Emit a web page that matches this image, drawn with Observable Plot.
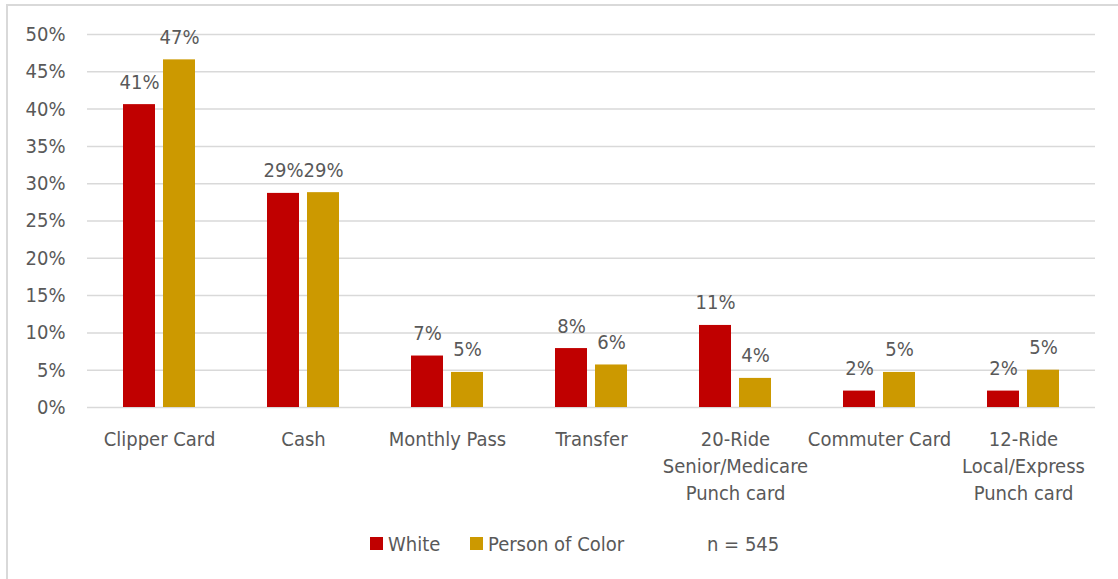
<!DOCTYPE html>
<html><head><meta charset="utf-8">
<script src="https://cdn.jsdelivr.net/npm/d3@7"></script>
<script src="https://cdn.jsdelivr.net/npm/@observablehq/plot@0.6"></script>
<style>
body{margin:0;overflow:hidden;background:#fff;width:1118px;height:579px;position:relative;
  font-family:"Liberation Sans Narrow","Arial Narrow","DejaVu Sans Condensed",sans-serif;color:#595959;}
#frame{position:absolute;left:6px;top:4px;width:1200px;height:700px;border:2px solid #d9d9d9;box-sizing:border-box;}
#chart{position:absolute;left:0;top:0;}
.sw{position:absolute;top:537px;width:13px;height:13px;}
.lt{position:absolute;top:534px;font-size:20px;line-height:20px;white-space:nowrap;}
</style></head>
<body>
<div id="frame"></div>
<div id="chart"></div>
<div id="legend"></div>
<script>
const categories = ["Clipper Card","Cash","Monthly Pass","Transfer","20-Ride\nSenior/Medicare\nPunch card","Commuter Card","12-Ride\nLocal/Express\nPunch card"];
const series = ["White","Person of Color"];
const whiteValues = [40.6,28.7,6.9,7.9,11.0,2.2,2.2];
const colorValues = [46.6,28.8,4.7,5.7,3.9,4.7,5.0];
const seriesColors = ["#C00000","#CC9900"];
const yTicks = [0,5,10,15,20,25,30,35,40,45,50];
const sampleNote = "n = 545";

const data = [];
categories.forEach((c,i)=>{
  data.push({category:c, series:series[0], value:whiteValues[i]});
  data.push({category:c, series:series[1], value:colorValues[i]});
});

const font = '"Liberation Sans Narrow","Arial Narrow","DejaVu Sans Condensed",sans-serif';
const chart = Plot.plot({
  width:1118, height:515,
  marginLeft:85, marginRight:21, marginTop:34, marginBottom:108,
  style:{fontFamily:font, color:"#595959", background:"transparent", overflow:"visible"},
  fx:{domain:categories, padding:0, label:null},
  x:{domain:series, paddingInner:0.195, paddingOuter:0.861, axis:null},
  y:{domain:[0,50], label:null},
  color:{domain:series, range:seriesColors},
  marks:[
    Plot.gridY(yTicks,{stroke:"#d9d9d9", strokeOpacity:1, strokeWidth:1.5}),
    Plot.axisY(yTicks,{tickSize:0, tickPadding:22, fontSize:20, fill:"#595959", tickFormat:d=>d+"%", label:null}),
    Plot.axisFx({anchor:"bottom", tickSize:0, tickPadding:19, fontSize:20, lineHeight:1.35, fill:"#595959", label:null}),
    Plot.barY(data,{fx:"category", x:"series", y:"value", fill:"series"}),
    Plot.text(data,{fx:"category", x:"series", y:"value", text:d=>Math.round(d.value)+"%",
      lineAnchor:"bottom", dy:-16, fontSize:20, fill:"#595959"})
  ]
});
document.getElementById("chart").appendChild(chart);

const legend = document.getElementById("legend");
const items = [
  {label:series[0], color:seriesColors[0], sw:370, tx:388},
  {label:series[1], color:seriesColors[1], sw:470, tx:488},
  {label:sampleNote, color:null, sw:null, tx:707}
];
items.forEach(it=>{
  if(it.color){const s=document.createElement("div"); s.className="sw"; s.style.left=it.sw+"px"; s.style.background=it.color; legend.appendChild(s);}
  const t=document.createElement("div"); t.className="lt"; t.style.left=it.tx+"px"; t.textContent=it.label; legend.appendChild(t);
});
</script>
</body></html>
